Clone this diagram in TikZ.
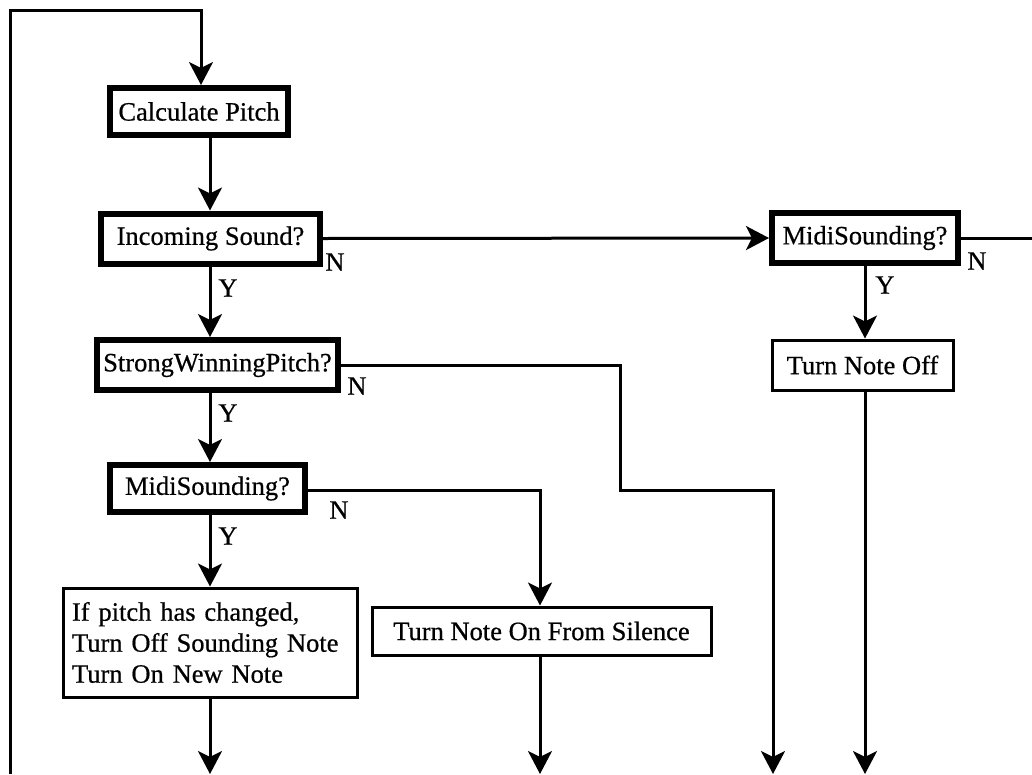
\documentclass[tikz,border=0pt]{standalone}
\usepackage{fontspec}
\setmainfont[FakeBold=0.6]{Liberation Serif}
\usetikzlibrary{arrows.meta}
\begin{document}
\begin{tikzpicture}[x=1pt,y=-1pt,
  font=\fontsize{26.5}{31}\selectfont,
  thickbox/.style={draw,line width=6pt,inner sep=0pt,minimum width=#1,minimum height=49pt},
  thinbox/.style={draw,line width=3pt,inner sep=0pt,minimum width=#1,minimum height=49pt},
  flow/.style={line width=3pt,-{Stealth[length=23pt,width=24pt,inset=6pt]}},
  plain/.style={line width=3pt},
  lbl/.style={inner sep=0pt}]
\useasboundingbox (0,0) rectangle (1032,774);
% nodes
\node[thickbox=178pt,minimum height=47pt] (calc) at (199,111.5) {Calculate Pitch};
\node[thickbox=219pt,minimum height=50pt] (inc) at (210.5,238.5) {Incoming Sound?};
\node[thickbox=241pt,minimum height=50pt] (strong) at (217.5,365) {StrongWinningPitch?};
\node[thickbox=195pt,minimum height=47pt] (midiL) at (207.5,488.5) {MidiSounding?};
\node[thinbox=294pt,minimum height=109pt,align=left,text width=276pt] (chg) at (210,642.5) {If pitch has changed,\\Turn Off Sounding Note\\Turn On New Note};
\node[thinbox=339pt,minimum height=48pt] (on) at (541.5,631) {Turn Note On From Silence};
\node[thickbox=186pt,minimum height=50pt] (midiR) at (865,238) {MidiSounding?};
\node[thinbox=181pt,minimum height=50pt] (off) at (862.5,365) {Turn Note Off};
% labels
\node[lbl] (n1) at (335,262) {N};
\node[lbl] (y1) at (228,288) {Y};
\node[lbl] (n2) at (357,386) {N};
\node[lbl] (y2) at (228,413) {Y};
\node[lbl] (n3) at (339,510) {N};
\node[lbl] (y3) at (228,536) {Y};
\node[lbl] (n4) at (977,261) {N};
\node[lbl] (y4) at (885,285) {Y};
% coordinates
\coordinate (lb) at (10,774);
\coordinate (lt) at (10,10);
\coordinate (tt) at (201,10);
\coordinate (rEdge) at (1032,238);
\coordinate (s1) at (620,365);
\coordinate (s2) at (620,490);
\coordinate (s3) at (773,490);
\coordinate (b3) at (773,774);
\coordinate (m1) at (540,490);
\coordinate (b1) at (210,774);
\coordinate (b2) at (540,774);
\coordinate (b4) at (865,774);
% connectors
\draw[flow] (lb) -- (lt) -- (tt) -- (tt |- calc.north);
\draw[flow] (calc.south -| 210,0) -- (210,0 |- inc.north);
\draw[flow] (inc.east) -- (midiR.west);
\draw[plain] (midiR.east) -- (rEdge);
\draw[flow] (inc.south -| 210,0) -- (210,0 |- strong.north);
\draw[flow] (strong.south -| 210,0) -- (210,0 |- midiL.north);
\draw[flow] (midiL.south -| 210,0) -- (210,0 |- chg.north);
\draw[flow] (chg.south -| 210,0) -- (b1);
\draw[flow] (strong.east) -- (s1) -- (s2) -- (s3) -- (b3);
\draw[flow] (midiL.east |- m1) -- (m1) -- (m1 |- on.north);
\draw[flow] (on.south -| b2) -- (b2);
\draw[flow] (midiR.south) -- (off.north -| midiR.south);
\draw[flow] (off.south -| b4) -- (b4);
\end{tikzpicture}
\end{document}
